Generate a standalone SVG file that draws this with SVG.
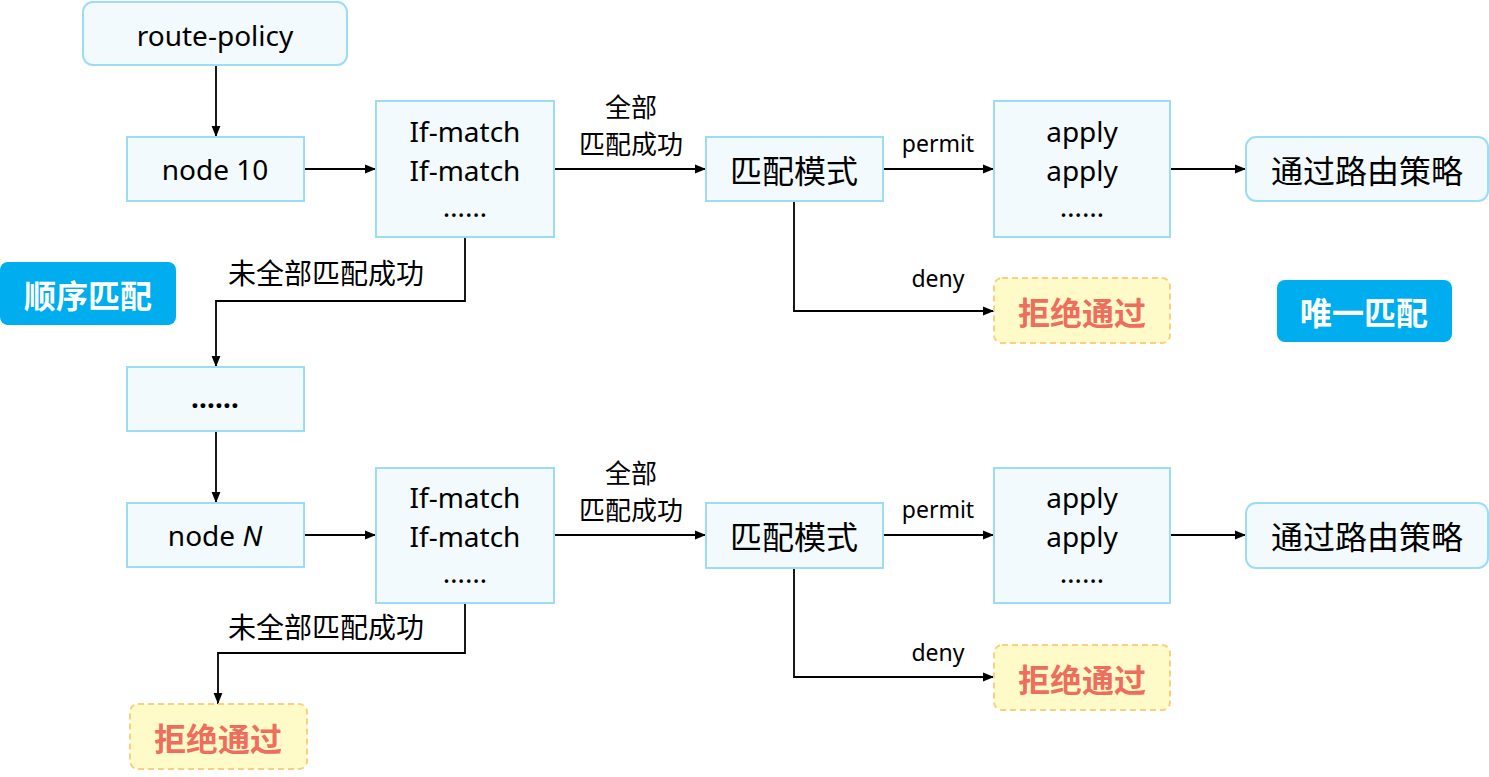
<svg xmlns="http://www.w3.org/2000/svg" width="1489" height="777" viewBox="0 0 1489 777">
<style>
.box{fill:#f3fafd;stroke:#9ddcf5;stroke-width:2}
.rej{fill:#fffbc8;stroke:#fbcf80;stroke-width:2;stroke-dasharray:6 4}
.tag{fill:#00aeef}
.t{font-family:"Noto Sans","Noto Sans CJK SC",sans-serif;font-size:28px;fill:#000;text-anchor:middle;dominant-baseline:central}
.c{font-family:"Noto Sans CJK SC",sans-serif;font-size:32px;fill:#000;text-anchor:middle;dominant-baseline:central}
.lbl{font-family:"Noto Sans CJK SC",sans-serif;font-size:28px;fill:#000;text-anchor:middle;dominant-baseline:central}
.lb2{font-family:"Noto Sans CJK SC",sans-serif;font-size:26px;fill:#000;text-anchor:middle;dominant-baseline:central}
.sm{font-family:"Noto Sans",sans-serif;font-size:23px;fill:#000;text-anchor:middle;dominant-baseline:central}
.red{font-family:"Noto Sans CJK SC",sans-serif;font-size:32px;font-weight:bold;fill:#ee6e5e;text-anchor:middle;dominant-baseline:central}
.wh{font-family:"Noto Sans CJK SC",sans-serif;font-size:32px;font-weight:bold;fill:#fff;text-anchor:middle;dominant-baseline:central}
.ln{fill:none;stroke:#000;stroke-width:1.8}
</style>
<defs>
<marker id="ah" viewBox="0 0 10 10" refX="10" refY="5" markerWidth="11" markerHeight="11" markerUnits="userSpaceOnUse" orient="auto">
<path d="M0,1 L10,5 L0,9 z" fill="#000"/>
</marker>
</defs>
<g id="connectors">
<path class="ln" d="M216,65 V137" marker-end="url(#ah)"/>
<path class="ln" d="M304,169 H376" marker-end="url(#ah)"/>
<path class="ln" d="M554,169 H706" marker-end="url(#ah)"/>
<path class="ln" d="M883,169 H994" marker-end="url(#ah)"/>
<path class="ln" d="M1170,169 H1246" marker-end="url(#ah)"/>
<path class="ln" d="M794,201 V311 H994" marker-end="url(#ah)"/>
<path class="ln" d="M465,237 V301 H216 V367" marker-end="url(#ah)"/>
<path class="ln" d="M216,431 V503" marker-end="url(#ah)"/>
<path class="ln" d="M304,535 H376" marker-end="url(#ah)"/>
<path class="ln" d="M554,535 H706" marker-end="url(#ah)"/>
<path class="ln" d="M883,535 H994" marker-end="url(#ah)"/>
<path class="ln" d="M1170,535 H1246" marker-end="url(#ah)"/>
<path class="ln" d="M794,568 V677 H994" marker-end="url(#ah)"/>
<path class="ln" d="M465,603 V653 H218 V704" marker-end="url(#ah)"/>
<text class="lb2" x="631" y="105">全部</text>
<text class="lb2" x="631" y="142">匹配成功</text>
<text class="sm" x="938" y="143">permit</text>
<text class="sm" x="938" y="278">deny</text>
<text class="lbl" x="326" y="272">未全部匹配成功</text>
<text class="lb2" x="631" y="471">全部</text>
<text class="lb2" x="631" y="508">匹配成功</text>
<text class="sm" x="938" y="509">permit</text>
<text class="sm" x="938" y="652">deny</text>
<text class="lbl" x="326" y="626">未全部匹配成功</text>
</g>
<g id="route-policy"><rect class="box" x="83" y="2" width="264" height="63" rx="10"/><text class="t" x="215" y="35">route-policy</text></g>
<g id="node10"><rect class="box" x="127" y="137" width="177" height="64"/><text class="t" x="215" y="169">node 10</text></g>
<g id="ifmatch1"><rect class="box" x="376" y="101" width="178" height="136"/><text class="t" x="465" y="131">If-match</text><text class="t" x="465" y="170">If-match</text><text class="t" x="465" y="206">……</text></g>
<g id="mode1"><rect class="box" x="706" y="137" width="177" height="64"/><text class="c" x="794" y="169">匹配模式</text></g>
<g id="apply1"><rect class="box" x="994" y="101" width="176" height="136"/><text class="t" x="1082" y="131">apply</text><text class="t" x="1082" y="170">apply</text><text class="t" x="1082" y="206">……</text></g>
<g id="pass1"><rect class="box" x="1246" y="137" width="242" height="64" rx="10"/><text class="c" x="1367" y="169">通过路由策略</text></g>
<g id="reject1"><rect class="rej" x="994" y="278" width="176" height="65" rx="8"/><text class="red" x="1082" y="311">拒绝通过</text></g>
<g id="unique"><rect class="tag" x="1277" y="280" width="175" height="62" rx="8"/><text class="wh" x="1364" y="311">唯一匹配</text></g>
<g id="sequential"><rect class="tag" x="0" y="262" width="176" height="63" rx="8"/><text class="wh" x="88" y="294">顺序匹配</text></g>
<g id="dots"><rect class="box" x="127" y="367" width="177" height="64"/><text class="t" x="215" y="397" font-weight="bold">……</text></g>
<g id="nodeN"><rect class="box" x="127" y="503" width="177" height="64"/><text class="t" x="215" y="535">node <tspan font-style="italic">N</tspan></text></g>
<g id="ifmatch2"><rect class="box" x="376" y="468" width="178" height="135"/><text class="t" x="465" y="497">If-match</text><text class="t" x="465" y="536">If-match</text><text class="t" x="465" y="572">……</text></g>
<g id="mode2"><rect class="box" x="706" y="503" width="177" height="65"/><text class="c" x="794" y="535">匹配模式</text></g>
<g id="apply2"><rect class="box" x="994" y="468" width="176" height="135"/><text class="t" x="1082" y="497">apply</text><text class="t" x="1082" y="536">apply</text><text class="t" x="1082" y="572">……</text></g>
<g id="pass2"><rect class="box" x="1246" y="503" width="242" height="65" rx="10"/><text class="c" x="1367" y="535">通过路由策略</text></g>
<g id="reject2"><rect class="rej" x="994" y="645" width="176" height="65" rx="8"/><text class="red" x="1082" y="678">拒绝通过</text></g>
<g id="reject3"><rect class="rej" x="130" y="704" width="177" height="65" rx="8"/><text class="red" x="218" y="737">拒绝通过</text></g>
</svg>
